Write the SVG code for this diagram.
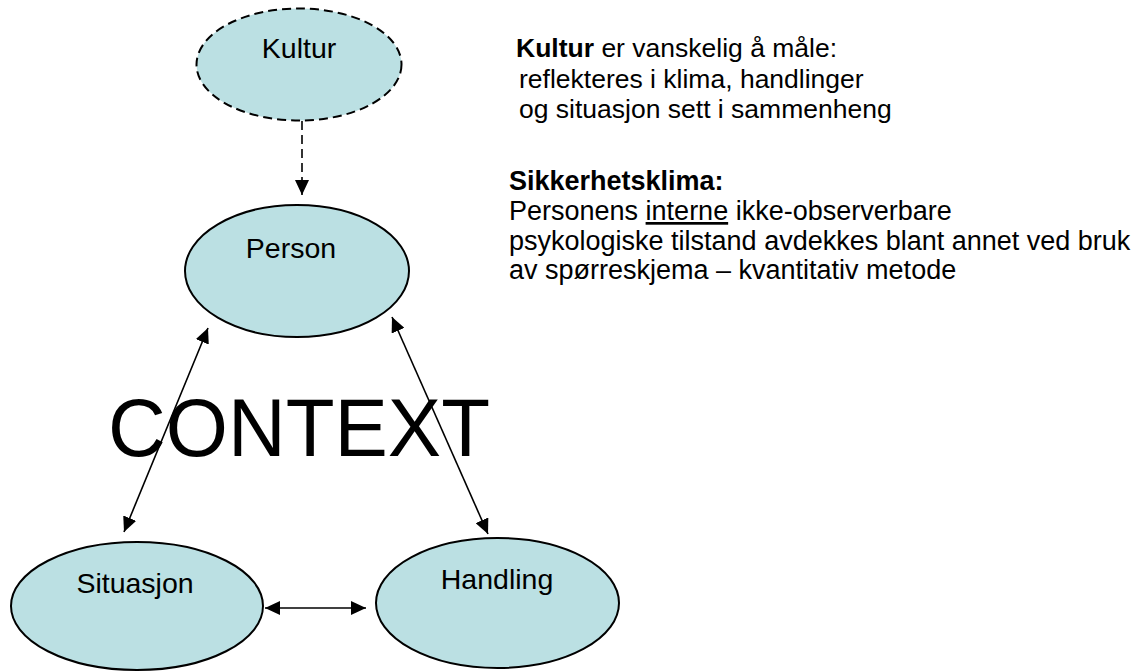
<svg xmlns="http://www.w3.org/2000/svg" width="1140" height="671" viewBox="0 0 1140 671">
  <style>
    .node { fill: #BBE0E3; stroke: #000; stroke-width: 2; }
    .dashed { stroke-dasharray: 9 5; }
    .label { font-family: "Liberation Sans", Arial, sans-serif; font-size: 28.5px; fill: #000; text-anchor: middle; }
    .edge { stroke: #000; stroke-width: 1.6; fill: none; }
    .note { font-family: "Liberation Sans", Arial, sans-serif; fill: #000; }
  </style>
  <defs>
    <marker id="head" markerUnits="userSpaceOnUse" markerWidth="16" markerHeight="14" refX="15" refY="7" orient="auto-start-reverse">
      <path d="M0,0 L15,7 L0,14 z" fill="#000"/>
    </marker>
  </defs>

  <rect width="1140" height="671" fill="#fff"/>

  <!-- big background word -->
  <text x="108" y="456" font-family="Liberation Sans, Arial, sans-serif" font-size="82" textLength="382" lengthAdjust="spacingAndGlyphs" fill="#000">CONTEXT</text>

  <g id="kultur">
    <ellipse class="node dashed" cx="299" cy="64.5" rx="102.5" ry="56"/>
    <text class="label" x="299" y="58">Kultur</text>
  </g>

  <g id="person">
    <ellipse class="node" cx="297" cy="271" rx="112" ry="66"/>
    <text class="label" x="291" y="258">Person</text>
  </g>

  <g id="situasjon">
    <ellipse class="node" cx="137" cy="606" rx="126" ry="64"/>
    <text class="label" x="135" y="593">Situasjon</text>
  </g>

  <g id="handling">
    <ellipse class="node" cx="497.5" cy="603" rx="121.5" ry="65"/>
    <text class="label" x="497" y="589">Handling</text>
  </g>

  <g id="connectors">
    <line class="edge dashed" x1="302" y1="121" x2="302" y2="195" marker-end="url(#head)"/>
    <line class="edge" x1="208" y1="328" x2="124" y2="532" marker-start="url(#head)" marker-end="url(#head)"/>
    <line class="edge" x1="392" y1="317" x2="488" y2="534" marker-start="url(#head)" marker-end="url(#head)"/>
    <line class="edge" stroke-width="2" x1="265" y1="608" x2="366" y2="608" marker-start="url(#head)" marker-end="url(#head)"/>
  </g>

  <g id="notes" class="note">
    <text x="516" y="57" font-size="26.5"><tspan font-weight="bold">Kultur</tspan> er vanskelig å måle:</text>
    <text x="519" y="88" font-size="26.5">reflekteres i klima, handlinger</text>
    <text x="519" y="118" font-size="26.5">og situasjon sett i sammenheng</text>

    <text x="509" y="190" font-size="27" font-weight="bold">Sikkerhetsklima:</text>
    <text x="509" y="220" font-size="27">Personens <tspan text-decoration="underline">interne</tspan> ikke-observerbare</text>
    <text x="509" y="250" font-size="27">psykologiske tilstand avdekkes blant annet ved bruk</text>
    <text x="509" y="279" font-size="27">av spørreskjema – kvantitativ metode</text>
  </g>
</svg>
